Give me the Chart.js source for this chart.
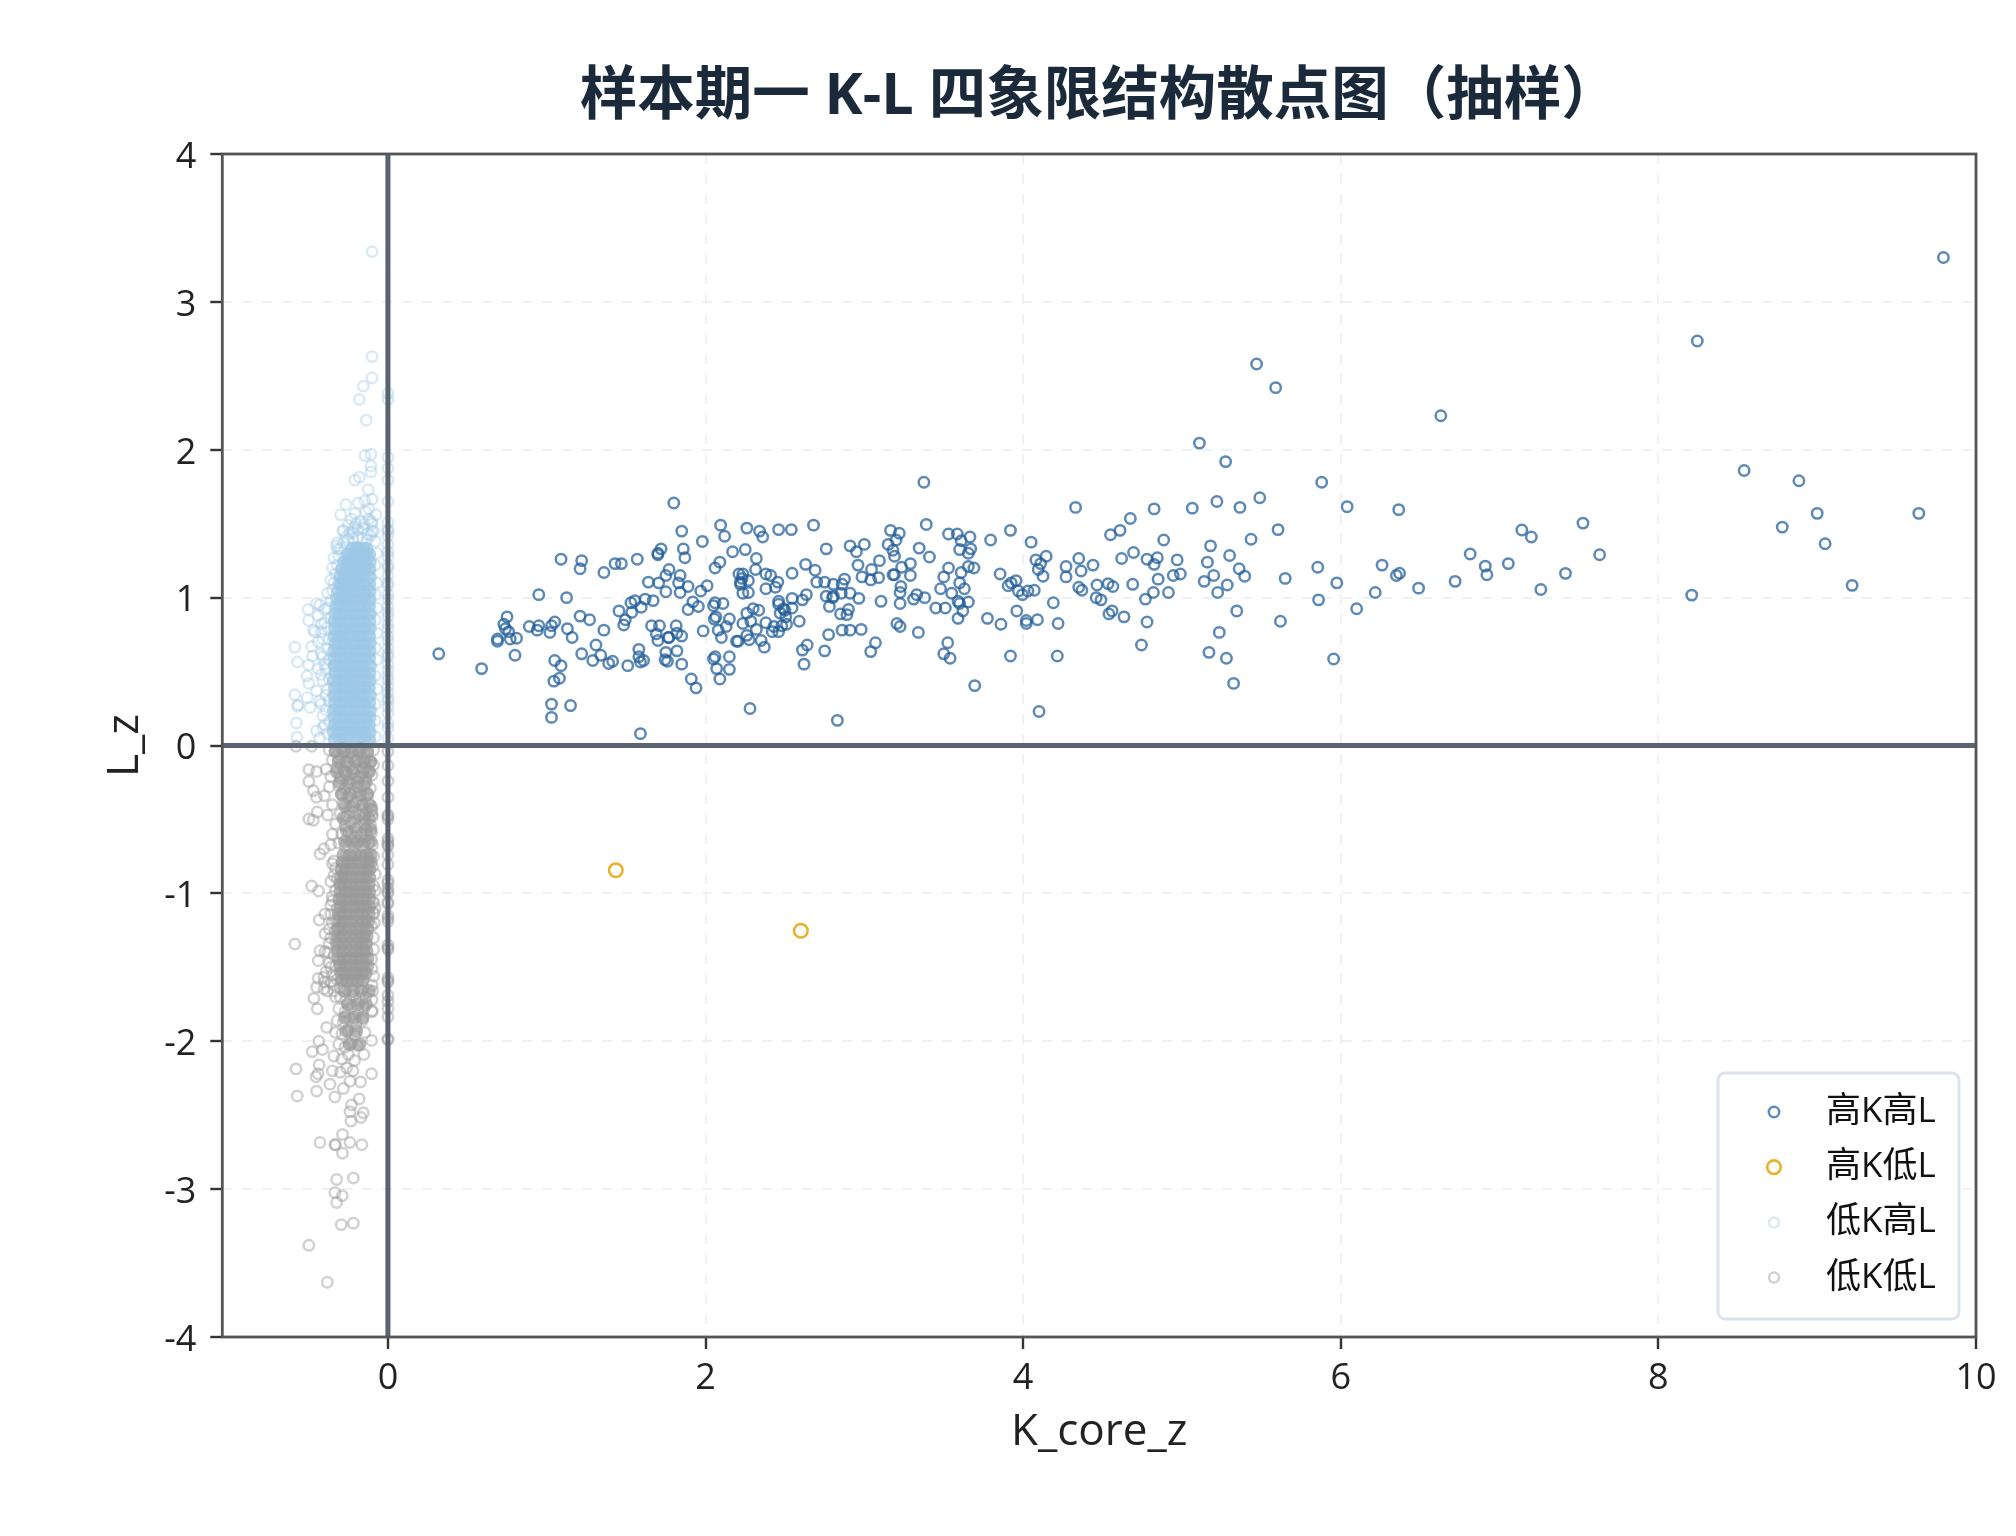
<!DOCTYPE html>
<html>
<head>
<meta charset="utf-8">
<style>
  html, body { margin: 0; padding: 0; background: #fff; }
  canvas { display: block; }
</style>
<script src="https://cdn.jsdelivr.net/npm/chart.js@4/dist/chart.umd.min.js"></script>
</head>
<body>
<canvas id="chart" width="2016" height="1536"></canvas>
<script>
const titleText = '样本期一 K-L 四象限结构散点图（抽样）';
const xTickValues = [0, 2, 4, 6, 8, 10];
const yTickValues = [-4, -3, -2, -1, 0, 1, 2, 3, 4];
const legendLabels = ['高K高L', '高K低L', '低K高L', '低K低L'];

const highHigh = [[.32,.62],[.59,.52],[.69,.72],[.69,.705],[.75,.87],[.73,.82],[.74,.79],[.76,.77],[.77,.72],[.81,.725],[.80,.61],[.89,.805],[.95,.81],[.94,.78],[1.02,.765],[1.03,.81],[1.05,.835],[1.13,.79],[1.16,.73],[.95,1.02],[1.125,1.0],[1.09,1.26],[1.22,1.25],[1.21,1.195],[1.36,1.17],[1.43,1.23],[1.47,1.23],[1.57,1.26],[1.70,1.29],[1.72,1.33],[1.70,1.30],[1.86,1.33],[1.87,1.27],[1.98,1.38],[1.80,1.64],[1.85,1.45],[2.095,1.49],[2.12,1.415],[2.26,1.47],[2.34,1.45],[2.36,1.41],[2.46,1.46],[2.54,1.46],[2.68,1.49],[2.17,1.31],[2.25,1.325],[2.32,1.265],[2.76,1.33],[2.91,1.35],[2.95,1.31],[3.0,1.36],[3.165,1.455],[3.22,1.435],[3.20,1.39],[3.15,1.36],[3.18,1.32],[3.19,1.28],[3.345,1.335],[2.09,1.24],[2.06,1.20],[1.77,1.19],[1.75,1.15],[1.84,1.15],[1.64,1.105],[1.705,1.10],[1.83,1.10],[1.89,1.075],[2.01,1.08],[1.97,1.045],[1.75,1.04],[1.84,1.035],[1.62,.99],[1.67,.98],[1.53,.965],[1.555,.98],[1.455,.91],[1.595,.935],[1.535,.90],[1.495,.85],[1.485,.815],[1.21,.875],[1.27,.85],[1.36,.78],[1.31,.68],[1.22,.62],[1.29,.575],[1.34,.61],[1.39,.555],[1.415,.57],[1.05,.575],[1.09,.54],[1.08,.455],[1.045,.435],[1.03,.28],[1.15,.27],[1.03,.19],[1.58,.65],[1.58,.60],[1.59,.565],[1.61,.575],[1.51,.54],[1.59,.08],[1.66,.81],[1.71,.81],[1.69,.755],[1.70,.71],[1.765,.73],[1.77,.73],[1.815,.81],[1.82,.76],[1.85,.74],[1.75,.63],[1.82,.64],[1.745,.58],[1.76,.57],[1.85,.55],[1.91,.45],[1.94,.39],[1.92,.97],[1.955,.94],[1.89,.92],[2.05,.945],[2.06,.965],[2.11,.96],[2.055,.855],[2.065,.87],[2.15,.855],[2.13,.805],[2.08,.78],[2.10,.73],[1.985,.775],[2.195,.705],[2.205,.705],[2.235,.825],[2.26,.895],[2.285,.84],[2.30,.925],[2.335,.915],[2.38,.83],[2.32,.785],[2.26,.745],[2.275,.715],[2.35,.71],[2.37,.665],[2.42,.77],[2.43,.805],[2.46,.77],[2.48,.81],[2.51,.82],[2.505,.87],[2.59,.84],[2.47,.895],[2.50,.915],[2.46,.975],[2.46,.955],[2.49,.925],[2.545,.995],[2.545,.93],[2.61,.985],[2.635,1.02],[2.05,.585],[2.06,.60],[2.15,.60],[2.07,.52],[2.15,.515],[2.09,.45],[2.28,.25],[2.61,.645],[2.64,.68],[2.62,.55],[2.75,.64],[2.775,.75],[2.86,.78],[2.91,.78],[2.98,.785],[3.07,.695],[3.04,.635],[2.83,.17],[2.78,.94],[2.76,1.01],[2.80,1.00],[2.805,1.01],[2.855,1.03],[2.91,1.03],[2.965,.995],[2.90,.92],[2.85,.89],[2.89,.885],[3.105,.975],[3.225,.96],[3.225,1.035],[3.23,1.075],[3.31,.99],[3.33,1.02],[3.205,.825],[3.225,.805],[3.34,.765],[2.63,1.225],[2.69,1.185],[2.70,1.105],[2.75,1.105],[2.805,1.09],[2.875,1.125],[2.86,1.09],[2.96,1.22],[2.985,1.14],[3.045,1.19],[3.04,1.12],[3.09,1.135],[3.095,1.25],[3.18,1.155],[3.19,1.155],[3.235,1.205],[3.29,1.23],[3.29,1.15],[2.21,1.16],[2.235,1.16],[2.23,1.13],[2.22,1.105],[2.22,1.09],[2.27,1.115],[2.235,1.03],[2.27,1.035],[2.315,1.19],[2.38,1.16],[2.41,1.15],[2.455,1.105],[2.44,1.07],[2.38,1.06],[2.545,1.165],
  [3.375,1.78],[3.39,1.495],[3.41,1.275],[3.53,1.43],[3.585,1.43],[3.61,1.385],[3.665,1.41],[3.60,1.325],[3.655,1.30],[3.67,1.33],[3.795,1.39],[3.92,1.455],[4.05,1.375],[3.53,1.20],[3.50,1.14],[3.61,1.17],[3.655,1.21],[3.69,1.20],[3.48,1.06],[3.60,1.10],[3.63,1.06],[3.55,1.03],[3.38,1.0],[3.45,.93],[3.51,.93],[3.59,.975],[3.60,.96],[3.655,.97],[3.62,.91],[3.59,.86],[3.775,.86],[3.86,.82],[3.525,.695],[3.50,.62],[3.54,.59],[3.695,.405],[3.92,.605],[4.215,.605],[4.10,.23],[3.855,1.16],[3.905,1.08],[3.925,1.10],[3.955,1.115],[3.97,1.045],[3.995,1.02],[4.03,1.045],[4.07,1.05],[3.96,.91],[4.02,.845],[4.02,.825],[4.09,.85],[4.19,.965],[4.22,.825],[4.08,1.255],[4.11,1.23],[4.145,1.28],[4.095,1.19],[4.125,1.145],[4.27,1.21],[4.27,1.14],[4.35,1.265],[4.365,1.18],[4.44,1.22],[4.33,1.61],[4.35,1.07],[4.37,1.05],[4.465,1.085],[4.535,1.095],[4.565,1.075],[4.46,1.0],[4.49,.985],[4.54,.89],[4.56,.91],[4.635,.87],[4.69,1.09],[4.77,.99],[4.82,1.035],[4.78,.835],[4.745,.68],[4.915,1.035],[4.55,1.425],[4.61,1.455],[4.675,1.535],[4.62,1.265],[4.695,1.305],[4.78,1.26],[4.825,1.225],[4.845,1.27],[4.85,1.125],[4.825,1.60],[4.885,1.39],[4.97,1.255],[4.945,1.15],[4.99,1.16],[5.065,1.605],[5.22,1.65],[5.365,1.61],[5.49,1.675],[5.11,2.045],[5.275,1.92],[5.18,1.35],[5.16,1.24],[5.30,1.285],[5.20,1.15],[5.14,1.11],[5.285,1.085],[5.225,1.035],[5.36,1.195],[5.395,1.145],[5.435,1.395],[5.605,1.46],[5.65,1.13],[5.345,.91],[5.235,.765],[5.17,.63],[5.28,.59],[5.325,.42],[5.62,.84],[5.855,1.205],[5.88,1.78],[6.04,1.615],[6.365,1.595],[5.975,1.10],[5.86,.985],[5.955,.585],[6.10,.925],[6.217,1.035],[6.26,1.22],[6.35,1.15],[6.37,1.165],[5.47,2.58],[5.59,2.42],
  [9.795,3.30],[8.245,2.735],[6.63,2.23],[8.54,1.86],[8.885,1.79],[9.0,1.57],[9.64,1.57],[8.78,1.477],[9.05,1.364],[9.22,1.083],[8.21,1.017],[6.49,1.064],[6.72,1.11],[6.815,1.295],[6.91,1.213],[6.92,1.155],[7.055,1.23],[7.14,1.457],[7.2,1.41],[7.26,1.055],[7.415,1.164],[7.525,1.504],[7.63,1.29]];

const highLow = [[1.435,-.844],[2.60,-1.253]];

// rings read one by one around the blue blob and in the x=0 column
const lowHigh = [[-.10,3.34],[-.10,2.63],[-.10,2.485],[-.155,2.43],[-.18,2.34],[-.137,2.20],[0,2.38],[0,2.34],[-.145,1.96],[-.107,1.97],[-.107,1.89],[-.107,1.85],[0,1.95],[0,1.875],[0,1.795],[0,1.65],[-.208,1.795],[-.18,1.815],[-.124,1.73],[-.265,1.63],[-.187,1.64],[-.145,1.655],[-.1,1.665],[-.298,1.56],[-.284,1.45],[-.28,1.455],[-.208,1.57],[-.23,1.53],[-.175,1.515],[-.103,1.515],[-.1,1.45],[-.14,1.58],[-.12,1.6],[-.2,1.5],[-.25,1.49],[-.16,1.47],[-.22,1.44],[-.13,1.43],[-.32,1.37],[-.315,1.33],[-.325,1.35],[-.265,1.41],
  [-.502,.92],[-.45,.96],[-.43,.95],[-.5,.845],[-.47,.78],[-.46,.77],[-.586,.665],[-.57,.565],[-.48,.67],[-.475,.605],[-.5,.545],[-.51,.47],[-.498,.42],[-.586,.343],[-.57,.265],[-.565,.275],[-.508,.323],[-.49,.257],[-.577,.153],[-.573,.056],[-.44,.88],[-.42,.82],[-.44,.7],[-.42,.62],[-.44,.52],[-.41,.44],[-.45,.37],[-.43,.3],[-.41,.2],[-.45,.1],[-.43,.05],[-.4,.14],[-.41,.72],[-.4,.92],[-.38,1.03],[-.36,1.12],[-.35,1.2],[-.34,1.27],[-.4,.55],[-.39,.34],
  [-.38,.08],[-.37,.16],[-.39,.24],[-.37,.3],[-.38,.38],[-.37,.45],[-.39,.52],[-.37,.58],[-.38,.65],[-.37,.72],[-.38,.8],[-.36,.86],[-.38,.93],[-.36,.98],[-.35,1.05],[-.34,1.1],[-.33,1.16],[-.32,1.22],[-.31,1.28],[-.3,1.33],[-.28,1.37],[-.25,1.39],[-.22,1.4],[-.19,1.41],[-.16,1.4],[-.13,1.39],[-.11,1.42],[-.24,1.44],[-.19,1.46],[-.15,1.5],[-.12,1.53],[-.21,1.48],[-.41,.12],[-.42,.28],[-.42,.48],[-.41,.6],[-.42,.77],[-.4,.83],
  [-.08,1.38],[-.07,1.3],[-.08,1.22],[-.07,1.1],[-.08,1.02],[-.07,.93],[-.08,.85],[-.07,.76],[-.08,.66],[-.07,.58],[-.08,.47],[-.07,.38],[-.08,.28],[-.08,.17],[-.08,.06],[-.09,1.45],[-.1,1.5],[-.075,1.56],
  [0,1.51],[0,1.46],[0,1.45],[0,1.42],[0,1.36],[0,1.31],[0,1.28],[0,1.22],[0,1.2],[0,1.15],[0,1.1],[0,1.08],[0,1.02],[0,.99],[0,.94],[0,.9],[0,.87],[0,.82],[0,.79],[0,.74],[0,.71],[0,.66],[0,.62],[0,.6],[0,.55],[0,.51],[0,.47],[0,.44],[0,.4],[0,.36],[0,.32],[0,.3],[0,.26],[0,.22],[0,.15],[0,.12],[0,.05]];

// the inside of the blue blob is too dense to read single rings, so these rows are estimates that only cover its area
const lowHighCoreRows = [[.04,[-.335,-.3,-.262,-.23,-.19,-.155,-.118]],[.09,[-.34,-.298,-.265,-.228,-.195,-.152,-.115]],[.14,[-.332,-.302,-.26,-.232,-.188,-.157,-.12]],[.19,[-.336,-.296,-.266,-.226,-.193,-.15,-.116]],[.24,[-.34,-.303,-.262,-.23,-.19,-.155,-.113]],[.29,[-.333,-.298,-.267,-.225,-.196,-.153,-.118]],[.34,[-.338,-.301,-.26,-.233,-.187,-.158,-.114]],[.39,[-.335,-.296,-.265,-.228,-.194,-.15,-.12]],[.44,[-.34,-.304,-.263,-.23,-.19,-.156,-.115]],[.49,[-.332,-.299,-.268,-.226,-.193,-.152,-.117]],[.54,[-.337,-.302,-.26,-.232,-.188,-.157,-.113]],[.59,[-.334,-.297,-.266,-.227,-.195,-.15,-.119]],[.64,[-.339,-.303,-.262,-.231,-.19,-.155,-.116]],[.69,[-.331,-.298,-.267,-.225,-.192,-.153,-.114]],[.74,[-.336,-.301,-.26,-.233,-.188,-.158,-.118]],[.79,[-.333,-.296,-.264,-.228,-.194,-.151,-.115]],[.84,[-.335,-.303,-.263,-.23,-.19,-.156,-.117]],[.89,[-.33,-.298,-.267,-.226,-.193,-.152,-.114]],[.94,[-.325,-.3,-.26,-.232,-.188,-.157,-.119]],[.99,[-.32,-.296,-.265,-.227,-.195,-.15,-.116]],[1.04,[-.315,-.284,-.262,-.231,-.19,-.155,-.115]],[1.09,[-.305,-.28,-.255,-.225,-.192,-.153,-.118]],[1.14,[-.3,-.272,-.24,-.21,-.188,-.158,-.114]],[1.19,[-.29,-.262,-.235,-.205,-.175,-.148,-.117]],[1.24,[-.275,-.25,-.228,-.2,-.168,-.145,-.115]],[1.29,[-.255,-.235,-.215,-.19,-.162,-.14,-.118]],[1.33,[-.225,-.2,-.18,-.155,-.135]]];

// rings read around the grey blob, its tail and the x=0 column, then the speckled rows above y=-0.7 and below y=-1.6
const lowLow = [[-.579,-.005],[-.48,-.005],[-.498,-.163],[-.45,-.176],[-.498,-.243],[-.47,-.305],[-.45,-.35],[-.498,-.497],[-.47,-.505],[-.445,-.45],[-.428,-.733],[-.403,-.698],[-.48,-.95],[-.437,-.984],[-.433,-1.18],[-.397,-1.14],[-.586,-1.342],[-.397,-1.273],[-.428,-1.388],[-.397,-1.393],[-.439,-1.455],[-.439,-1.575],[-.403,-1.567],[-.449,-1.634],[-.403,-1.647],[-.466,-1.71],[-.445,-1.78],[-.386,-1.906],[-.435,-2.0],[-.477,-2.07],[-.412,-2.056],[-.579,-2.187],[-.433,-2.16],[-.453,-2.24],[-.44,-2.22],[-.571,-2.37],[-.449,-2.337],[-.334,-2.377],[-.365,-2.29],[-.281,-2.32],[-.239,-2.27],[-.172,-2.275],[-.103,-2.22],[-.151,-2.09],[-.103,-1.995],[-.145,-1.94],[-.181,-2.39],[-.229,-2.43],[-.239,-2.476],[-.155,-2.484],[-.17,-2.516],[-.233,-2.54],[-.286,-2.63],[-.334,-2.70],[-.33,-2.7],[-.239,-2.685],[-.164,-2.70],[-.428,-2.685],[-.286,-2.757],[-.218,-2.925],[-.323,-2.935],[-.334,-3.024],[-.288,-3.045],[-.323,-3.09],[-.294,-3.24],[-.218,-3.23],[-.498,-3.38],[-.382,-3.63],
  [-.103,-.43],[-.1,-.47],[-.103,-.59],[-.097,-.67],[-.097,-.82],[-.09,-.95],[-.09,-1.06],[-.09,-1.14],[-.103,-1.22],[-.103,-1.445],[-.1,-1.51],[-.097,-1.66],[-.1,-1.794],[-.1,-.44],[-.098,-.48],[-.1,-1.8],[-.095,-1.06],[-.09,-1.13],
  [-.34,-.78],[-.33,-.83],[-.32,-.9],[-.36,-.92],[-.33,-.98],[-.35,-1.05],[-.32,-1.1],[-.36,-1.14],[-.33,-1.18],[-.37,-1.24],[-.33,-1.25],[-.37,-1.34],[-.33,-1.32],[-.38,-1.4],[-.34,-1.42],[-.37,-1.47],[-.33,-1.49],[-.39,-1.53],[-.35,-1.55],[-.4,-1.6],[-.36,-1.6],[-.32,-1.58],[-.38,-1.66],[-.34,-1.62],[-.3,-1.64],[-.09,-.75],[-.08,-.87],[-.08,-.98],[-.08,-1.1],[-.085,-1.2],[-.09,-1.3],[-.09,-1.38],[-.09,-1.56],[-.1,-1.62],[-.1,-1.72],
  [0,-.04],[0,-.135],[0,-.24],[0,-.35],[0,-.47],[0,-.48],[0,-.5],[0,-.63],[0,-.65],[0,-.67],[0,-.68],[0,-.74],[0,-.805],[0,-.91],[0,-.93],[0,-.965],[0,-.99],[0,-1.0],[0,-1.06],[0,-1.07],[0,-1.15],[0,-1.17],[0,-1.19],[0,-1.35],[0,-1.37],[0,-1.38],[0,-1.57],[0,-1.59],[0,-1.6],[0,-1.69],[0,-1.73],[0,-1.78],[0,-1.835],[0,-1.985],[0,-1.99],
  [-.37,-.03],[-.33,-.04],[-.29,-.02],[-.25,-.05],[-.21,-.03],[-.17,-.02],[-.13,-.05],[-.09,-.03],[-.35,-.1],[-.31,-.09],[-.27,-.11],[-.23,-.08],[-.19,-.1],[-.15,-.09],[-.11,-.11],[-.39,-.16],[-.32,-.15],[-.28,-.17],[-.24,-.14],[-.2,-.16],[-.16,-.15],[-.12,-.17],[-.09,-.13],[-.36,-.21],[-.3,-.22],[-.26,-.2],[-.22,-.23],[-.18,-.21],[-.14,-.22],[-.1,-.2],[-.37,-.28],[-.31,-.27],[-.27,-.29],[-.23,-.26],[-.19,-.28],[-.15,-.27],[-.11,-.29],[-.4,-.34],[-.29,-.33],[-.25,-.35],[-.21,-.32],[-.17,-.34],[-.13,-.33],[-.35,-.4],[-.28,-.39],[-.24,-.41],[-.2,-.38],[-.16,-.4],[-.12,-.39],[-.38,-.47],[-.3,-.46],[-.26,-.48],[-.22,-.45],[-.18,-.47],[-.14,-.46],[-.33,-.53],[-.27,-.54],[-.23,-.52],[-.19,-.55],[-.15,-.53],[-.11,-.54],[-.35,-.6],[-.29,-.6],[-.25,-.59],[-.21,-.62],[-.17,-.6],[-.13,-.61],[-.36,-.67],[-.31,-.66],[-.27,-.68],[-.2,-.66],[-.16,-.68],[-.12,-.66],
  [-.35,-.8],[-.34,-.88],[-.35,-1.02],[-.36,-1.08],[-.35,-1.2],[-.36,-1.3],[-.36,-1.5],[-.34,-1.66],[-.33,-1.7],
  [-.3,-1.7],[-.26,-1.72],[-.22,-1.69],[-.18,-1.71],[-.14,-1.7],[-.31,-1.78],[-.27,-1.8],[-.23,-1.77],[-.19,-1.79],[-.15,-1.78],[-.32,-1.86],[-.28,-1.87],[-.24,-1.85],[-.2,-1.88],[-.16,-1.86],[-.33,-1.94],[-.29,-1.95],[-.25,-1.93],[-.21,-1.96],[-.31,-2.02],[-.27,-2.04],[-.23,-2.01],[-.19,-2.03],[-.34,-2.1],[-.29,-2.12],[-.25,-2.09],[-.21,-2.13],[-.35,-2.2],[-.3,-2.21],[-.26,-2.18],[-.22,-2.2]];

// same for the dense part of the grey blob, rows that cover its area
const lowLowCoreRows = [[-.04,[-.33,-.28,-.23,-.18,-.13]],[-.11,[-.31,-.26,-.2,-.15,-.11]],[-.18,[-.32,-.27,-.22,-.16,-.12]],[-.25,[-.3,-.25,-.19,-.14]],[-.33,[-.29,-.24,-.18,-.13]],[-.41,[-.27,-.22,-.16,-.11]],[-.49,[-.28,-.21,-.15,-.12]],[-.57,[-.26,-.2,-.14,-.11]],[-.65,[-.27,-.23,-.19,-.15,-.11]],
  [-.74,[-.28,-.24,-.205,-.17,-.135,-.11]],[-.79,[-.285,-.25,-.21,-.175,-.13,-.11]],[-.84,[-.29,-.262,-.22,-.18,-.14,-.118]],[-.89,[-.295,-.27,-.232,-.19,-.155,-.118]],[-.94,[-.3,-.275,-.24,-.2,-.16,-.122]],[-.99,[-.3,-.268,-.23,-.195,-.155,-.118]],[-1.04,[-.305,-.272,-.238,-.2,-.16,-.12]],[-1.09,[-.3,-.27,-.23,-.192,-.155,-.118]],[-1.14,[-.31,-.275,-.24,-.198,-.16,-.122]],[-1.19,[-.31,-.278,-.232,-.195,-.155,-.125]],[-1.24,[-.315,-.282,-.24,-.2,-.16,-.13]],[-1.29,[-.315,-.28,-.235,-.195,-.155,-.135]],[-1.34,[-.32,-.285,-.24,-.2,-.165,-.138]],[-1.39,[-.315,-.28,-.235,-.197,-.16,-.135]],[-1.44,[-.31,-.278,-.24,-.2,-.165,-.13]],[-1.49,[-.3,-.27,-.232,-.195,-.16,-.13]],[-1.54,[-.295,-.265,-.23,-.2,-.165,-.14]],[-1.59,[-.29,-.26,-.225,-.19,-.16]],
  [-1.66,[-.27,-.22,-.17,-.12]],[-1.75,[-.25,-.19,-.14]],[-1.84,[-.27,-.21,-.16]],[-1.93,[-.26,-.2]],[-2.02,[-.24,-.18]]];

const toPoints = list => list.map(p => ({ x: p[0], y: p[1] }));
const rowsToPoints = rows => rows.flatMap(r => r[1].map(x => ({ x: x, y: r[0] })));

const fontFamily = '"Open Sans", "Noto Sans CJK SC", sans-serif';
const gridColor = '#eef1f6';

// frame, thick zero lines and the legend box are not something the scale options can do
const overlayPlugin = {
  id: 'overlay',
  afterDatasetsDraw(chart) {
    const ctx = chart.ctx;
    const area = chart.chartArea;
    const x0 = chart.scales.x.getPixelForValue(0);
    const y0 = chart.scales.y.getPixelForValue(0);
    ctx.save();
    ctx.strokeStyle = '#5a6470';
    ctx.lineWidth = 5;
    ctx.beginPath();
    ctx.moveTo(x0, area.top);
    ctx.lineTo(x0, area.bottom);
    ctx.moveTo(area.left, y0);
    ctx.lineTo(area.right, y0);
    ctx.stroke();

    ctx.strokeStyle = '#555555';
    ctx.lineWidth = 2.8;
    ctx.strokeRect(area.left, area.top, area.right - area.left, area.bottom - area.top);

    ctx.fillStyle = '#ffffff';
    ctx.strokeStyle = '#dce3ee';
    ctx.lineWidth = 3;
    ctx.beginPath();
    ctx.roundRect(1718, 1073, 241, 246, 7);
    ctx.fill();
    ctx.stroke();

    const rings = [
      { r: 5.2, w: 2.5, color: 'rgba(31,92,153,0.72)' },
      { r: 6.8, w: 2.6, color: 'rgba(232,172,30,0.95)' },
      { r: 5, w: 2.5, color: 'rgba(157,200,230,0.38)' },
      { r: 5, w: 2.5, color: 'rgba(154,154,154,0.45)' }
    ];
    ctx.font = '35px ' + fontFamily;
    ctx.textBaseline = 'middle';
    legendLabels.forEach((label, i) => {
      const y = 1112 + i * 55.2;
      ctx.strokeStyle = rings[i].color;
      ctx.lineWidth = rings[i].w;
      ctx.beginPath();
      ctx.arc(1774, y, rings[i].r, 0, Math.PI * 2);
      ctx.stroke();
      ctx.fillStyle = '#111111';
      ctx.fillText(label, 1826, y);
    });
    ctx.restore();
  }
};

new Chart(document.getElementById('chart'), {
  type: 'scatter',
  plugins: [overlayPlugin],
  data: {
    datasets: [
      { label: legendLabels[3], data: toPoints(lowLow), order: 0, pointRadius: 5.2, pointBorderWidth: 2.5, pointBorderColor: 'rgba(154,154,154,0.45)', pointBackgroundColor: 'transparent' },
      { label: legendLabels[3] + ' core', data: rowsToPoints(lowLowCoreRows), order: 1, pointRadius: 7, pointBorderWidth: 0, pointBackgroundColor: 'rgba(154,154,154,0.7)' },
      { label: legendLabels[2], data: toPoints(lowHigh), order: 2, pointRadius: 5.2, pointBorderWidth: 2.5, pointBorderColor: 'rgba(157,200,230,0.38)', pointBackgroundColor: 'transparent' },
      { label: legendLabels[2] + ' core', data: rowsToPoints(lowHighCoreRows), order: 3, pointRadius: 7, pointBorderWidth: 0, pointBackgroundColor: 'rgba(157,200,230,0.75)' },
      { label: legendLabels[1], data: toPoints(highLow), order: 4, pointRadius: 6.8, pointBorderWidth: 2.5, pointBorderColor: 'rgba(232,172,30,0.95)', pointBackgroundColor: 'transparent' },
      { label: legendLabels[0], data: toPoints(highHigh), order: 5, pointRadius: 5.2, pointBorderWidth: 2.5, pointBorderColor: 'rgba(31,92,153,0.72)', pointBackgroundColor: 'transparent' }
    ]
  },
  options: {
    responsive: false,
    animation: false,
    devicePixelRatio: 1,
    layout: { padding: { left: 0, right: 40, top: 0, bottom: 0 } },
    plugins: {
      legend: { display: false },
      tooltip: { enabled: false },
      title: {
        display: true,
        text: titleText,
        fullSize: false,
        color: '#1b2a3a',
        font: { family: fontFamily, size: 57.5, weight: 'bold', lineHeight: 1.2 },
        padding: { top: 63, bottom: 22 }
      }
    },
    scales: {
      x: {
        type: 'linear',
        min: -1.043,
        max: 10,
        afterBuildTicks: scale => { scale.ticks = xTickValues.map(v => ({ value: v })); },
        afterFit: scale => { scale.height = 199; },
        grid: { color: gridColor, lineWidth: 2, tickColor: '#333333', tickWidth: 2.4, tickLength: 12 },
        border: { display: false, dash: [10, 10] },
        ticks: { color: '#222222', font: { family: fontFamily, size: 36 }, padding: 8, maxRotation: 0, autoSkip: false },
        title: { display: true, text: 'K_core_z', color: '#222222', font: { family: fontFamily, size: 44 }, padding: { top: 0, bottom: 77.6 } }
      },
      y: {
        type: 'linear',
        min: -4,
        max: 4,
        afterBuildTicks: scale => { scale.ticks = yTickValues.map(v => ({ value: v })); },
        afterFit: scale => { scale.width = 222.3; },
        grid: { color: gridColor, lineWidth: 2, tickColor: '#333333', tickWidth: 2.4, tickLength: 12 },
        border: { display: false, dash: [10, 10] },
        ticks: { color: '#222222', font: { family: fontFamily, size: 36 }, padding: 14, labelOffset: 3.5, autoSkip: false },
        title: { display: true, text: 'L_z', color: '#222222', font: { family: fontFamily, size: 44 }, padding: { top: 99, bottom: 0 } }
      }
    }
  }
});
</script>
</body>
</html>
